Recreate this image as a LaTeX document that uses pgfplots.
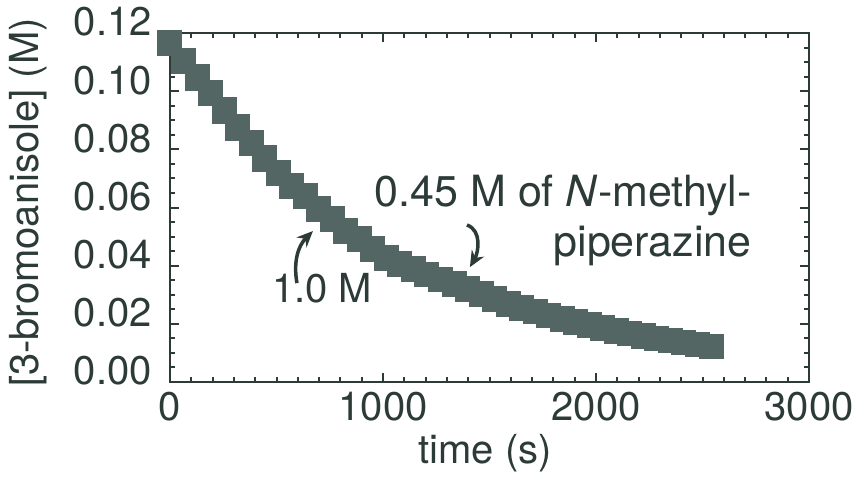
\documentclass[border=0pt]{standalone}
\usepackage{fontspec}
\setmainfont{TeX Gyre Heros}
\usepackage{pgfplots}
\pgfplotsset{compat=1.18}
\usetikzlibrary{arrows.meta}
\definecolor{ink}{RGB}{44,58,56}
\definecolor{mk}{RGB}{84,102,100}
\begin{document}
\fontsize{40}{48}\selectfont
\begin{tikzpicture}
\begin{axis}[
  name=ax, scale only axis, width=639pt, height=349pt,
  xmin=0, xmax=3000, ymin=0, ymax=0.12,
  clip=false,
  axis line style={ink, line width=2.5pt},
  xtick={0,1000,2000,3000}, minor x tick num=9,
  ytick={0,0.02,0.04,0.06,0.08,0.10,0.12}, minor y tick num=3,
  tick align=inside, major tick length=9pt, minor tick length=5pt,
  every tick/.style={ink, line width=2pt},
  /pgf/number format/assume math mode=true,
  every tick label/.append style={font=\fontsize{40}{48}\selectfont, text=ink},
  yticklabel style={/pgf/number format/fixed, /pgf/number format/fixed zerofill, /pgf/number format/precision=2, anchor=east, inner sep=0pt, xshift=-18pt, yshift=11pt},
  xticklabel style={/pgf/number format/1000 sep={}, anchor=north, inner sep=0pt, yshift=-10pt},
  xlabel={time (s)},
  xlabel style={at={(axis description cs:0.493,-0.203)}, anchor=center, inner sep=0pt, text=ink, font=\fontsize{40}{48}\selectfont},
  ylabel={\relax[3-bromoanisole] (M)},
  ylabel style={at={(axis description cs:-0.222,0.514)}, anchor=center, inner sep=0pt, text=ink, font=\fontsize{40}{48}\selectfont},
]
\addplot[mk, only marks, mark=square*, mark size=12pt, mark options={fill=mk, draw=mk, line width=0pt}] coordinates {
(0,0.1164) (63.5,0.1102) (127,0.1044) (190.5,0.0992) (254,0.0930) (317.5,0.0872)
(381,0.0820) (444.5,0.0765) (508,0.0717) (571.5,0.0672) (635,0.0638) (698.5,0.0593)
(762,0.0559) (825.5,0.0517) (889,0.0490) (952.5,0.0456) (1016,0.0425) (1079.5,0.0405)
(1143,0.0386) (1206.5,0.0368) (1270,0.0351) (1333.5,0.0334) (1397,0.0318) (1460.5,0.0301)
(1524,0.0285) (1587.5,0.0268) (1651,0.0254) (1714.5,0.0241) (1778,0.0228) (1841.5,0.0216)
(1905,0.0205) (1968.5,0.0195) (2032,0.0185) (2095.5,0.0175) (2159,0.0167) (2222.5,0.0158)
(2286,0.0150) (2349.5,0.0142) (2413,0.0135) (2476.5,0.0128) (2540,0.0122)
};
\addplot[mk, only marks, mark=square*, mark size=12pt, mark options={fill=mk, draw=mk, line width=0pt}] coordinates {
(0,0.1168) (63.5,0.1106) (127,0.1050) (190.5,0.0996) (254,0.0936) (317.5,0.0877)
(381,0.0824) (444.5,0.0771) (508,0.0722) (571.5,0.0676) (635,0.0641) (698.5,0.0598)
(762,0.0562) (825.5,0.0521) (889,0.0493) (952.5,0.0460) (1016,0.0428) (1079.5,0.0408)
(1143,0.0389) (1206.5,0.0371) (1270,0.0354) (1333.5,0.0337) (1397,0.0321) (1460.5,0.0304)
(1524,0.0288) (1587.5,0.0271) (1651,0.0257) (1714.5,0.0243) (1778,0.0230) (1841.5,0.0218)
(1905,0.0207) (1968.5,0.0197) (2032,0.0187) (2095.5,0.0177) (2159,0.0168) (2222.5,0.0159)
(2286,0.0151) (2349.5,0.0143) (2413,0.0136) (2476.5,0.0129) (2540,0.0123)
};
\node[anchor=base east, inner sep=0pt, text=ink, font=\fontsize{43}{50}\selectfont] at (axis cs:2732,0.0602) {0.45 M of \textit{N}-methyl-};
\node[anchor=base east, inner sep=0pt, text=ink, font=\fontsize{43}{50}\selectfont] at (axis cs:2732,0.0433) {piperazine};
\node[anchor=base west, inner sep=0pt, text=ink] at (axis cs:479,0.0272) {1.0 M};
\draw[ink, line width=3.5pt, -{Stealth[length=16pt,width=14pt]}] (axis cs:596,0.0340) to[out=100,in=225] (axis cs:671,0.0519);
\draw[ink, line width=3.5pt, -{Stealth[length=16pt,width=14pt]}] (axis cs:1394,0.0540) to[out=-20,in=60] (axis cs:1408,0.0395);
\end{axis}
\pgfresetboundingbox
\path[use as bounding box] ([shift={(-170pt,-101pt)}]ax.south west) rectangle ++(858pt,483pt);
\end{tikzpicture}
\end{document}
